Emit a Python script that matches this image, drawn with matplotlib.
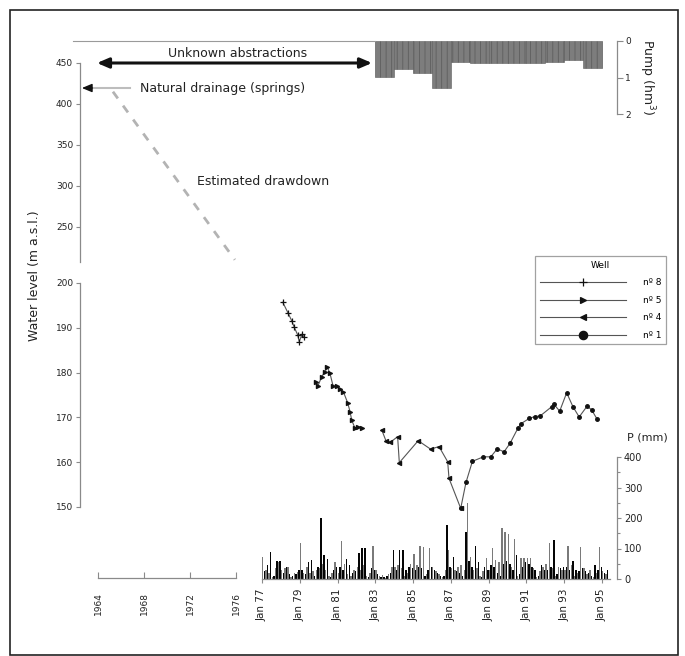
import matplotlib
matplotlib.use('Agg')
import matplotlib.pyplot as plt
from matplotlib.lines import Line2D
from matplotlib.patches import Rectangle
import numpy as np

plt.rcParams['font.family'] = ['DejaVu Sans']

W, H = 685, 656

# ---------------- data ----------------
# water level (m a.s.l.), decimal years
well8_t = [1978.10, 1978.39, 1978.57, 1978.71, 1978.89, 1978.97, 1979.12, 1979.22]
well8_v = [195.7, 193.2, 191.6, 190.1, 188.4, 186.9, 188.6, 188.0]
well5_t = [1979.86, 1979.95, 1980.16, 1980.34, 1980.46, 1980.60, 1980.77, 1980.95, 1981.13,
           1981.31, 1981.54, 1981.66, 1981.75, 1981.92, 1982.10, 1982.28]
well5_v = [178.0, 176.9, 179.1, 180.2, 181.2, 179.8, 176.9, 176.9, 176.3,
           175.7, 173.2, 171.3, 169.4, 167.6, 167.9, 167.6]
well4_t = [1983.34, 1983.56, 1983.78, 1984.18, 1984.27, 1985.27, 1985.93, 1986.37, 1986.83,
           1986.90, 1987.52]
well4_v = [167.2, 164.8, 164.4, 165.7, 159.9, 164.8, 162.9, 163.5, 160.1,
           156.4, 149.7]
well1_t = [1987.52, 1987.80, 1988.14, 1988.72, 1989.11, 1989.46, 1989.81, 1990.13, 1990.55,
           1990.71, 1991.16, 1991.45, 1991.72, 1992.34, 1992.46, 1992.76, 1993.13, 1993.46,
           1993.79, 1994.21, 1994.45, 1994.74]
well1_v = [149.7, 155.5, 160.2, 161.2, 161.2, 163.0, 162.3, 164.2, 167.6,
           168.6, 169.8, 170.2, 170.3, 172.4, 172.9, 171.4, 175.5, 172.4,
           170.1, 172.5, 171.7, 169.6]
well_labels = ['nº 8', 'nº 5', 'nº 4', 'nº 1']

# estimated drawdown (year, m a.s.l.)
drawdown_t = [1965.3, 1975.9]
drawdown_v = [415.0, 210.0]
natural_level = 419.5

# pumping (hm3/yr)
pump_years = [1983, 1984, 1985, 1986, 1987, 1988, 1989, 1990, 1991, 1992, 1993, 1994]
pump_vals = [0.98, 0.78, 0.89, 1.28, 0.57, 0.61, 0.61, 0.61, 0.60, 0.57, 0.53, 0.73]

# monthly precipitation (mm), Jan 1977 - Apr 1995
precip = [
    73, 25, 30, 45, 20, 87, 5, 10, 35, 60, 55, 60,        # 1977
    30, 20, 35, 40, 40, 15, 5, 10, 20, 15, 24, 30,        # 1978
    117, 30, 20, 15, 40, 57, 20, 62, 25, 10, 30, 40,      # 1979
    35, 199, 50, 78, 30, 65, 10, 5, 20, 30, 57, 40,       # 1980
    20, 40, 125, 30, 50, 65, 15, 45, 10, 20, 30, 25,      # 1981
    40, 86, 30, 103, 45, 103, 10, 5, 20, 35, 108, 30,     # 1982
    30, 15, 10, 8, 12, 5, 3, 10, 15, 20, 40, 95,          # 1983
    40, 30, 45, 95, 35, 95, 10, 30, 20, 40, 50, 35,       # 1984
    81, 30, 45, 40, 108, 35, 105, 10, 15, 30, 103, 40,    # 1985
    40, 30, 25, 20, 15, 10, 5, 10, 30, 177, 95, 40,       # 1986
    35, 73, 30, 25, 40, 20, 45, 10, 30, 155, 250, 60,     # 1987
    73, 40, 30, 109, 35, 57, 10, 5, 25, 40, 70, 30,       # 1988
    30, 45, 103, 40, 62, 20, 57, 10, 166, 50, 155, 60,    # 1989
    148, 50, 40, 30, 130, 80, 10, 15, 68, 40, 68, 55,     # 1990
    68, 50, 68, 40, 35, 30, 5, 10, 25, 45, 40, 30,        # 1991
    50, 30, 117, 40, 35, 128, 10, 15, 40, 35, 30, 40,     # 1992
    30, 40, 108, 30, 45, 58, 10, 30, 20, 25, 105, 35,     # 1993
    35, 25, 15, 20, 30, 10, 5, 45, 20, 30, 105, 40,       # 1994
    25, 20, 15, 31,                                       # 1995
]
precip_start = 1977.0

date_ticks = [1977, 1979, 1981, 1983, 1985, 1987, 1989, 1991, 1993, 1995]
date_labels = ['Jan 77', 'Jan 79', 'Jan 81', 'Jan 83', 'Jan 85', 'Jan 87',
               'Jan 89', 'Jan 91', 'Jan 93', 'Jan 95']
year_ticks = [1964, 1968, 1972, 1976]
upper_ticks = [250, 300, 350, 400, 450]
lower_ticks = [150, 160, 170, 180, 190, 200]
p_ticks = [0, 100, 200, 300, 400]
pump_ticks = [0, 1, 2]

# ---------------- layout ----------------
fig = plt.figure(figsize=(W / 100, H / 100), dpi=100)


def rect(x0, y0, x1, y1):
    return [x0 / W, 1 - y1 / H, (x1 - x0) / W, (y1 - y0) / H]


SPC = '#8a8a8a'
TXT = '#222222'
XL = (1967.365, 1995.794)


def bare(ax):
    ax.patch.set_alpha(0)
    for s in ax.spines.values():
        s.set_visible(False)
        s.set_color(SPC)
        s.set_linewidth(0.9)
    ax.set_xticks([])
    ax.set_yticks([])


# upper water-level axis (broken, compressed scale)
ax_top = fig.add_axes(rect(80, 63, 617, 262))
bare(ax_top)
ax_top.set_xlim(1962.435, 2009.13)
ax_top.set_ylim(207.3, 450)
ax_top.spines['left'].set_visible(True)
ax_top.spines['left'].set_bounds(207.3, 450)
ax_top.set_yticks(upper_ticks)
ax_top.tick_params(axis='y', direction='out', length=3, width=0.8, color=SPC,
                   labelsize=6.5, labelcolor=TXT, pad=2)

# lower water-level axis
ax_lvl = fig.add_axes(rect(80, 283, 617, 507))
bare(ax_lvl)
ax_lvl.set_xlim(*XL)
ax_lvl.set_ylim(150, 200)
ax_lvl.spines['left'].set_visible(True)
ax_lvl.set_yticks(lower_ticks)
ax_lvl.tick_params(axis='y', direction='out', length=3, width=0.8, color=SPC,
                   labelsize=6.5, labelcolor=TXT, pad=2)

# precipitation axis
ax_P = fig.add_axes(rect(80, 457, 617, 579))
bare(ax_P)
ax_P.set_xlim(*XL)
ax_P.set_ylim(0, 400)
ax_P.spines['right'].set_visible(True)
ax_P.spines['bottom'].set_visible(True)
ax_P.spines['bottom'].set_bounds(1977, 1995.4)
ax_P.yaxis.tick_right()
ax_P.set_yticks(p_ticks)
ax_P.set_yticks([50, 150, 250, 350], minor=True)
ax_P.tick_params(axis='y', which='both', direction='out', length=3, width=0.8, color=SPC,
                 labelsize=7, labelcolor=TXT, pad=2)
ax_P.tick_params(axis='y', which='minor', length=2)
ax_P.set_xticks(date_ticks)
ax_P.set_xticklabels(date_labels, rotation=90)
ax_P.tick_params(axis='x', direction='out', length=3, width=0.8, color=SPC,
                 labelsize=7.5, labelcolor=TXT, pad=4)

pt = precip_start + (np.arange(len(precip)) + 0.5) / 12.0
pcol = ['#7a7a7a' if i % 2 == 0 else '#050505' for i in range(len(precip))]
ax_P.bar(pt, precip, width=0.9 / 12, color=pcol, linewidth=0)

# left year axis
ax_yr = fig.add_axes(rect(98, 570, 236, 578))
bare(ax_yr)
ax_yr.set_xlim(1964, 1976)
ax_yr.spines['bottom'].set_visible(True)
ax_yr.set_xticks(year_ticks)
ax_yr.set_xticklabels([str(y) for y in year_ticks], rotation=90)
ax_yr.tick_params(axis='x', direction='in', length=4, width=0.8, color=SPC,
                  labelsize=6.5, labelcolor=TXT, pad=10)

# pumping axis
ax_pump = fig.add_axes(rect(80, 41, 617, 114))
bare(ax_pump)
ax_pump.set_xlim(*XL)
ax_pump.set_ylim(2, 0)
ax_pump.spines['right'].set_visible(True)
ax_pump.yaxis.tick_right()
ax_pump.set_yticks(pump_ticks)
ax_pump.tick_params(axis='y', direction='out', length=4, width=0.8, color=SPC,
                    labelsize=6.5, labelcolor=TXT, pad=2)
plt.rcParams['hatch.linewidth'] = 0.6
ax_pump.bar(pump_years, pump_vals, width=1.0, align='edge', color='#7d7d7d',
            edgecolor='#5e5e5e', linewidth=0.4, hatch='|||')
ax_pump.plot([XL[0] - 0.37, 1983], [0, 0], color='#9a9a9a', lw=0.8, clip_on=False)

# water level series
well_t = [well8_t, well5_t, well4_t, well1_t]
well_v = [well8_v, well5_v, well4_v, well1_v]
well_mk = ['+', '>', '<', 'o']
well_ms = [4, 3, 3, 2.6]
for t, v, m, s in zip(well_t, well_v, well_mk, well_ms):
    ax_lvl.plot(t, v, color='#555555', lw=0.8, marker=m, ms=s, mfc='#111111',
                mec='#111111', mew=0.9, clip_on=False)

handles = [Line2D([], [], color='#555555', lw=0.8, marker=m, ms=s, mfc='#111111',
                  mec='#111111', mew=0.9)
           for m, s in zip(well_mk, [6, 5, 5, 6])]
leg = fig.legend(handles, well_labels, title='Well', loc='upper left',
                 bbox_to_anchor=(535 / W, 1 - 256 / H), fontsize=6.5, title_fontsize=6.5,
                 handlelength=9.6, handletextpad=1.9, labelspacing=0.95, borderpad=0.5,
                 frameon=True, fancybox=False, edgecolor='#8a8a8a', borderaxespad=0)
leg.get_frame().set_linewidth(0.9)

# annotations in the upper panel
ax_top.plot(drawdown_t, drawdown_v, color='#b3b3b3', lw=2, linestyle=(0, (3, 3.2)),
            clip_on=False)
ax_top.annotate('', xy=(1963.91, 450), xytext=(1987.83, 450),
                arrowprops=dict(arrowstyle='<|-|>,head_length=0.7,head_width=0.3',
                                color='#111111', lw=2.2, shrinkA=0, shrinkB=0),
                annotation_clip=False)
ax_top.text(1976.17, 461.0, 'Unknown abstractions', ha='center', va='center',
            fontsize=9, color=TXT, clip_on=False)
ax_top.plot([1963.3, 1966.8], [natural_level, natural_level], color='#bdbdbd', lw=1.5)
ax_top.annotate('', xy=(1962.6, natural_level), xytext=(1963.5, natural_level),
                arrowprops=dict(arrowstyle='-|>,head_length=0.6,head_width=0.25',
                                color='#111111', lw=1, shrinkA=0, shrinkB=0),
                annotation_clip=False)
ax_top.text(1967.65, natural_level, 'Natural drainage (springs)', ha='left', va='center',
            fontsize=9, color=TXT)
ax_top.text(1972.61, 304.9, 'Estimated drawdown', ha='left', va='center',
            fontsize=9, color=TXT)

# axis titles
fig.text(35 / W, 1 - 276 / H, 'Water level (m a.s.l.)', rotation=90, ha='center',
         va='center', fontsize=9, color=TXT)
fig.text(627 / W, 1 - 437 / H, 'P (mm)', ha='left', va='center', fontsize=8, color=TXT)
fig.text(647 / W, 1 - 77 / H, 'Pump (hm$^3$)', rotation=270, ha='center', va='center',
         fontsize=9, color=TXT)

# outer frame
fig.add_artist(Rectangle((10 / W, 1 - 655 / H), 668 / W, 645 / H, transform=fig.transFigure,
                         fill=False, edgecolor='#222222', lw=1.2))

fig.savefig('out.png', dpi=100)
